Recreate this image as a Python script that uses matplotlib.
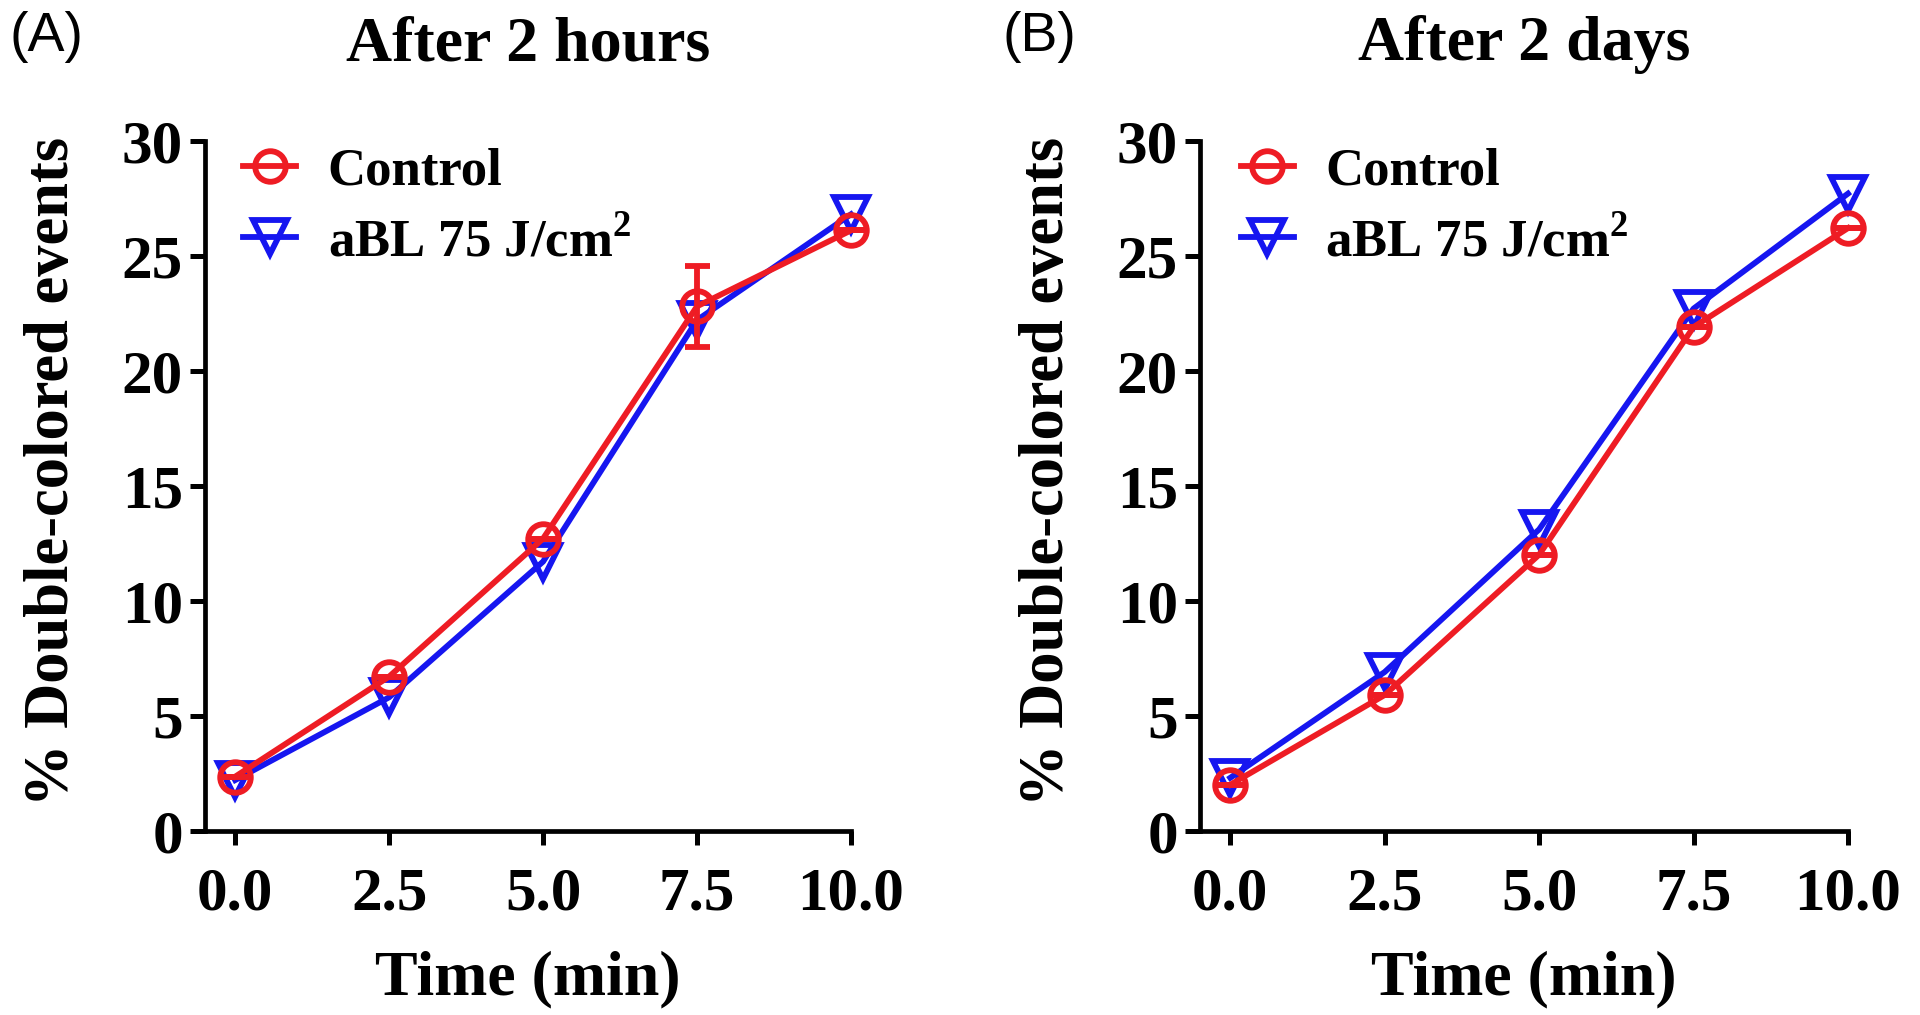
import matplotlib.pyplot as plt
from matplotlib.lines import Line2D

plt.rcParams["font.family"] = ["Liberation Serif", "DejaVu Serif"]
plt.rcParams["mathtext.fontset"] = "custom"
plt.rcParams["mathtext.rm"] = "Liberation Serif:bold"
plt.rcParams["mathtext.bf"] = "Liberation Serif:bold"

# 数据
time_min = [0.0, 2.5, 5.0, 7.5, 10.0]
x_ticks = [0.0, 2.5, 5.0, 7.5, 10.0]
x_tick_labels = ["0.0", "2.5", "5.0", "7.5", "10.0"]
y_ticks = [0, 5, 10, 15, 20, 25, 30]

hours_control = [2.35, 6.7, 12.7, 22.8, 26.1]
hours_control_err = [0.0, 0.0, 0.0, 1.75, 0.0]
hours_abl = [2.2, 5.8, 11.7, 22.2, 26.8]

days_control = [2.0, 5.9, 12.0, 21.9, 26.2]
days_control_err = [0.0, 0.0, 0.0, 0.0, 0.0]
days_abl = [2.3, 6.9, 13.1, 22.7, 27.7]

titles = ["After 2 hours", "After 2 days"]
panel_tags = ["(A)", "(B)"]
labels = ["Control", "aBL 75 J/cm$^{2}$"]

RED = "#ee1c24"
BLUE = "#1616f0"
LW = 4.2

fig = plt.figure(figsize=(19.2, 10.15), dpi=100)
ax_a = fig.add_axes([205 / 1920, 184.3 / 1015, 646 / 1920, 690 / 1015])
ax_b = fig.add_axes([1200 / 1920, 184.3 / 1015, 648 / 1920, 690 / 1015])

panels = [
    (ax_a, hours_control, hours_control_err, hours_abl, 0.059),
    (ax_b, days_control, days_control_err, days_abl, 0.063),
]

for i, (ax, ctrl, ctrl_err, abl, leg_x) in enumerate(panels):
    ax.plot(time_min, abl, color=BLUE, lw=LW, marker="v", ms=24,
            mfc="none", mec=BLUE, mew=LW, zorder=3, clip_on=False)
    ax.errorbar(time_min, ctrl, yerr=ctrl_err, color=RED, lw=LW,
                marker="o", ms=22, mfc="none", mec=RED, mew=LW,
                elinewidth=LW, capsize=9, capthick=LW, zorder=4,
                clip_on=False)

    ax.set_xlim(-0.49, 10.0)
    ax.set_ylim(0, 30)
    ax.set_xticks(x_ticks)
    ax.set_xticklabels(x_tick_labels)
    ax.set_yticks(y_ticks)
    ax.spines["top"].set_visible(False)
    ax.spines["right"].set_visible(False)
    for s in ("left", "bottom"):
        ax.spines[s].set_linewidth(3.4)
    ax.tick_params(axis="x", width=3.6, length=10, labelsize=44, pad=16)
    ax.tick_params(axis="y", width=3.6, length=11, labelsize=44, pad=5)
    for t in ax.get_xticklabels() + ax.get_yticklabels():
        t.set_fontweight("bold")

    ax.set_xlabel("Time (min)", fontsize=46, fontweight="bold", labelpad=20)
    ax.set_ylabel("% Double-colored events", fontsize=45, fontweight="bold")
    ax.yaxis.set_label_coords(-0.19, 0.52)
    ax.set_title(titles[i], fontsize=46, fontweight="bold", pad=58)

    handles = [
        Line2D([], [], color=RED, lw=LW, marker="o", ms=22, mfc="none",
               mec=RED, mew=LW),
        Line2D([], [], color=BLUE, lw=LW, marker="v", ms=24, mfc="none",
               mec=BLUE, mew=LW),
    ]
    ax.legend(handles, labels, loc="upper left",
              bbox_to_anchor=(leg_x, 0.990), borderpad=0, borderaxespad=0,
              frameon=False, prop={"size": 38, "weight": "bold"},
              handlelength=1.0, handletextpad=0.6, labelspacing=0.4)

fig.text(0.005, 0.9635, panel_tags[0], fontsize=40, family="Liberation Sans",
         va="center")
fig.text(0.522, 0.9635, panel_tags[1], fontsize=40, family="Liberation Sans",
         va="center")

fig.savefig("out.png", dpi=100)
